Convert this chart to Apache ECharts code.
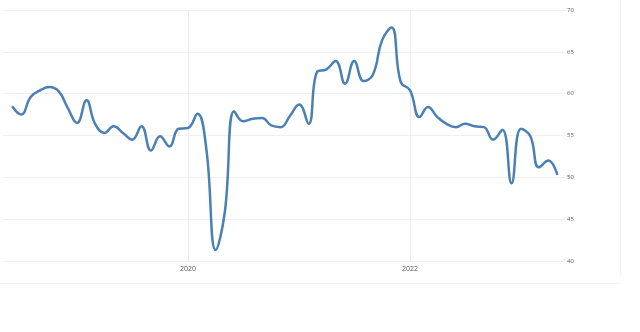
<!DOCTYPE html>
<html>
<head>
<meta charset="utf-8">
<script src="https://cdn.jsdelivr.net/npm/echarts@6/dist/echarts.min.js"></script>
<style>
html,body{margin:0;padding:0;background:#fff;}
#chart{width:640px;height:332px;}
</style>
</head>
<body>
<div id="chart"></div>
<script>
// Monthly values, Jun 2018 .. May 2023
var startYear = 2018, startMonth = 6;
var values = [
  58.5, 57.5, 59.6, 60.4, 60.8, 60.3, 58.3,
  56.5, 59.2, 56.4, 55.3, 56.1, 55.3, 54.5, 56.1, 53.2, 54.9, 53.7, 55.8,
  55.9, 57.6, 53.5, 41.3, 45.8, 57.9, 56.7, 57.0, 57.1, 56.2, 56.0, 57.3,
  58.7, 56.4, 62.6, 62.9, 63.9, 61.2, 63.9, 61.5, 62.3, 66.4, 67.9, 61.4,
  60.4, 57.2, 58.4, 57.2, 56.4, 56.0, 56.4, 56.1, 56.0, 54.5, 55.7, 49.3,
  55.8, 54.9, 51.2, 52.0, 50.3
];
var yTicks = [40, 45, 50, 55, 60, 65, 70];
var xLabelYears = [2020, 2022];

function ts(y, m, d) { return new Date(y, m - 1, d).getTime(); }

var seriesData = values.map(function (v, i) {
  var m = startMonth - 1 + i;
  return [ts(startYear + Math.floor(m / 12), (m % 12) + 1, 1), v];
});
var yearTs = xLabelYears.map(function (y) { return ts(y, 1, 1); });

var chart = echarts.init(document.getElementById('chart'), null, {renderer: 'canvas'});
chart.setOption({
  backgroundColor: '#ffffff',
  animation: false,
  grid: {left: 3, right: 75, top: 10, bottom: 71},
  xAxis: {
    type: 'value',
    min: ts(2018, 5, 2),
    max: ts(2023, 5, 26),
    axisLine: {show: false},
    axisTick: {show: false},
    splitLine: {show: false},
    axisLabel: {
      customValues: yearTs,
      formatter: function (val) { return String(new Date(val).getFullYear()); },
      fontSize: 7,
      color: '#555',
      margin: 4,
      fontFamily: 'Open Sans'
    }
  },
  yAxis: {
    type: 'value',
    position: 'right',
    min: yTicks[0],
    max: yTicks[yTicks.length - 1],
    interval: 5,
    axisLine: {show: false},
    axisTick: {show: false},
    splitLine: {show: true, lineStyle: {color: '#f0f0f0', width: 1}},
    axisLabel: {fontSize: 6, color: '#555', margin: 2, fontFamily: 'Open Sans'}
  },
  graphic: [
    {type: 'line', shape: {x1: 620.5, y1: 0, x2: 620.5, y2: 276}, style: {stroke: '#f0f0f0', lineWidth: 1}, silent: true},
    {type: 'line', shape: {x1: 0, y1: 283.5, x2: 620, y2: 283.5}, style: {stroke: '#f0f0f0', lineWidth: 1}, silent: true}
  ],
  series: [{
    type: 'line',
    data: [],
    silent: true,
    z: 0,
    markLine: {
      silent: true,
      z: 0,
      symbol: 'none',
      label: {show: false},
      lineStyle: {color: '#ececec', width: 1, type: 'solid'},
      data: yearTs.map(function (t) { return {xAxis: t}; })
    }
  }, {
    type: 'line',
    data: seriesData,
    smooth: 0.45,
    showSymbol: false,
    lineStyle: {color: '#4a80b4', width: 2.5},
    z: 10
  }]
});
</script>
</body>
</html>
